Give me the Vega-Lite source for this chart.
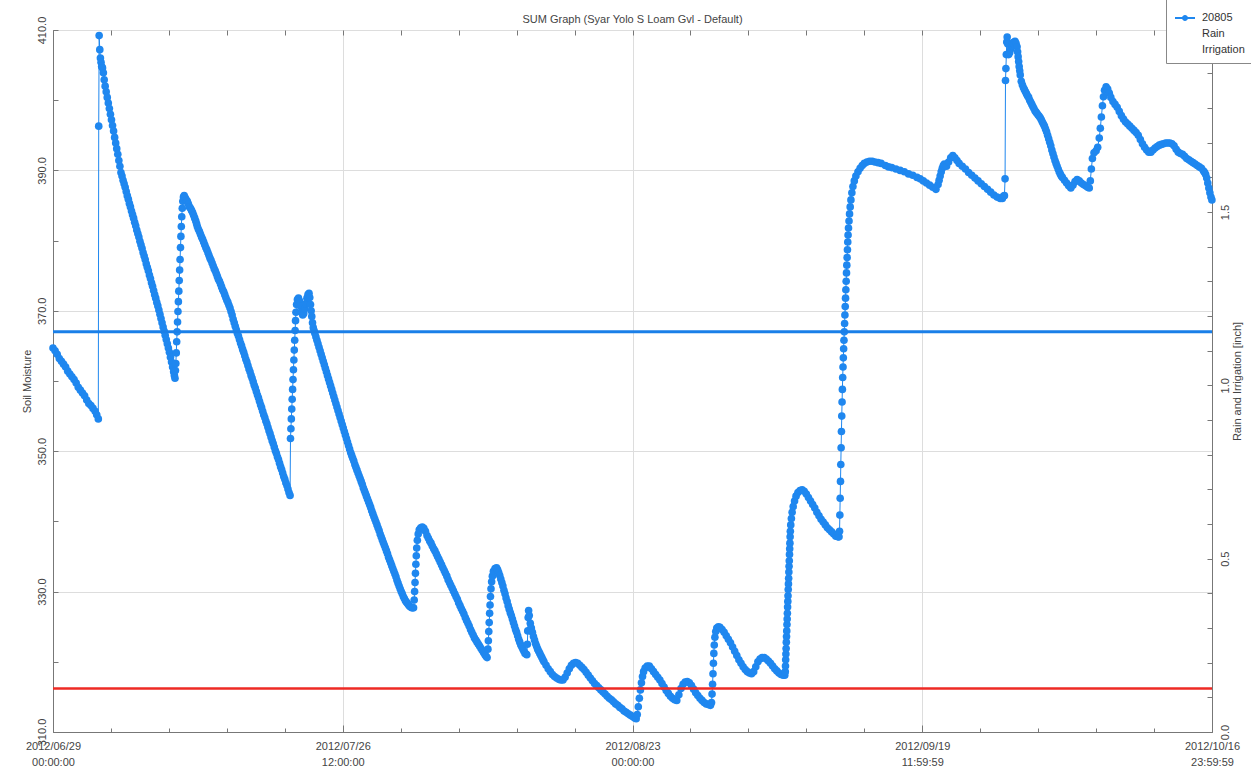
{
"$schema": "https://vega.github.io/schema/vega-lite/v6.json",
"width": 1159, "height": 702,
"autosize": {"type": "none"},
"padding": {"left": 53, "top": 30, "right": 39, "bottom": 40},
"background": "white",
"title": {"text": "SUM Graph (Syar Yolo S Loam Gvl - Default)", "fontSize": 11, "font": "Liberation Sans", "fontWeight": "normal", "color": "#444444", "offset": -26, "anchor": "middle"},
"config": {
  "view": {"stroke": "#777777", "strokeWidth": 1},
  "axis": {"domainColor": "#777777", "tickColor": "#777777", "labelFont": "Liberation Sans", "labelFontSize": 11, "labelColor": "#444444", "titleFont": "Liberation Sans", "titleFontSize": 11, "titleFontWeight": "normal", "titleColor": "#444444", "gridColor": "#dddddd", "gridWidth": 1}
},
"datasets": {"sm": [
{"d":0,"v":364.7},{"d":0.2,"v":364.3},{"d":0.4,"v":363.8},{"d":0.6,"v":363.2},{"d":0.8,"v":362.8},{"d":1,"v":362.4},{"d":1.2,"v":362},{"d":1.4,"v":361.4},{"d":1.6,"v":361},{"d":1.8,"v":360.6},{"d":2,"v":360.2},{"d":2.2,"v":359.7},{"d":2.4,"v":359.1},{"d":2.6,"v":358.7},{"d":2.8,"v":358.3},{"d":3,"v":357.9},{"d":3.2,"v":357.3},{"d":3.4,"v":356.8},{"d":3.6,"v":356.5},{"d":3.8,"v":356.1},{"d":4,"v":355.7},{"d":4.15,"v":355.2},{"d":4.3,"v":354.6},
{"d":4.34,"v":396.3},{"d":4.38,"v":409.2},{"d":4.44,"v":407.2},{"d":4.5,"v":406},{"d":4.56,"v":405.4},{"d":4.62,"v":404.8},{"d":4.7,"v":404.6},{"d":4.78,"v":403.9},{"d":4.86,"v":402.9},{"d":4.95,"v":402},
{"d":5.05,"v":401.2},{"d":5.15,"v":400.4},{"d":5.25,"v":399.6},{"d":5.35,"v":398.8},{"d":5.45,"v":398},{"d":5.55,"v":397.2},{"d":5.65,"v":396.4},{"d":5.75,"v":395.6},{"d":5.85,"v":394.7},{"d":5.95,"v":393.9},{"d":6.05,"v":393.1},{"d":6.15,"v":392.3},{"d":6.25,"v":391.4},{"d":6.35,"v":390.6},{"d":6.45,"v":389.7},{"d":6.55,"v":389.2},{"d":6.65,"v":388.6},{"d":6.75,"v":388.1},{"d":6.85,"v":387.6},{"d":6.95,"v":387},{"d":7.05,"v":386.4},{"d":7.15,"v":385.9},{"d":7.25,"v":385.3},{"d":7.35,"v":384.8},{"d":7.45,"v":384.2},{"d":7.55,"v":383.7},{"d":7.65,"v":383.2},{"d":7.75,"v":382.6},{"d":7.85,"v":382.1},{"d":7.95,"v":381.5},{"d":8.05,"v":381},{"d":8.15,"v":380.5},{"d":8.25,"v":379.9},{"d":8.35,"v":379.4},{"d":8.45,"v":378.9},{"d":8.55,"v":378.3},{"d":8.65,"v":377.8},{"d":8.75,"v":377.3},{"d":8.85,"v":376.7},{"d":8.95,"v":376.2},{"d":9.05,"v":375.7},{"d":9.15,"v":375.1},{"d":9.25,"v":374.6},{"d":9.35,"v":374},{"d":9.45,"v":373.5},{"d":9.55,"v":372.9},{"d":9.65,"v":372.3},{"d":9.75,"v":371.8},{"d":9.85,"v":371.2},{"d":9.95,"v":370.7},{"d":10.05,"v":370.1},{"d":10.15,"v":369.5},{"d":10.25,"v":368.9},{"d":10.35,"v":368.3},{"d":10.45,"v":367.7},{"d":10.55,"v":367.1},{"d":10.65,"v":366.5},{"d":10.75,"v":365.9},{"d":10.85,"v":365.3},{"d":10.95,"v":364.7},{"d":11.05,"v":364.1},{"d":11.15,"v":363.4},{"d":11.25,"v":362.7},{"d":11.35,"v":362},{"d":11.45,"v":361.3},{"d":11.52,"v":360.8},{"d":11.58,"v":360.4},
{"d":11.62,"v":361.5},{"d":11.66,"v":362.5},{"d":11.7,"v":364},{"d":11.74,"v":365.6},{"d":11.78,"v":367},{"d":11.82,"v":368.4},{"d":11.86,"v":369.9},{"d":11.9,"v":371.3},{"d":11.94,"v":372.8},{"d":11.98,"v":374.3},{"d":12.02,"v":375.8},{"d":12.06,"v":377.3},{"d":12.1,"v":379},{"d":12.14,"v":380.6},{"d":12.18,"v":382},{"d":12.22,"v":383.4},{"d":12.27,"v":384.6},{"d":12.32,"v":385.6},{"d":12.38,"v":386.2},{"d":12.45,"v":386.4},{"d":12.55,"v":386.1},{"d":12.65,"v":385.8},{"d":12.75,"v":385.6},{"d":12.85,"v":385.2},{"d":12.95,"v":384.8},{"d":13.05,"v":384.6},{"d":13.15,"v":384.3},{"d":13.25,"v":384},{"d":13.35,"v":383.6},{"d":13.45,"v":383.2},{"d":13.55,"v":382.8},{"d":13.63,"v":382.4},{"d":13.7,"v":382},
{"d":13.8,"v":381.6},{"d":13.9,"v":381.3},{"d":14,"v":380.9},{"d":14.1,"v":380.5},{"d":14.2,"v":380.2},{"d":14.3,"v":379.8},{"d":14.4,"v":379.4},{"d":14.5,"v":379},{"d":14.6,"v":378.7},{"d":14.7,"v":378.3},{"d":14.8,"v":377.9},{"d":14.9,"v":377.5},{"d":15,"v":377.2},{"d":15.1,"v":376.8},{"d":15.2,"v":376.4},{"d":15.3,"v":376},{"d":15.4,"v":375.7},{"d":15.5,"v":375.3},{"d":15.6,"v":374.9},{"d":15.7,"v":374.5},{"d":15.8,"v":374.2},{"d":15.9,"v":373.8},{"d":16,"v":373.4},{"d":16.1,"v":373},{"d":16.2,"v":372.7},{"d":16.3,"v":372.3},{"d":16.4,"v":371.9},{"d":16.5,"v":371.5},{"d":16.6,"v":371.2},{"d":16.7,"v":370.8},{"d":16.8,"v":370.4},{"d":16.9,"v":369.9},{"d":17,"v":369.4},{"d":17.1,"v":368.8},{"d":17.2,"v":368.3},{"d":17.3,"v":367.8},{"d":17.4,"v":367.3},{"d":17.5,"v":366.8},{"d":17.6,"v":366.4},{"d":17.7,"v":365.9},{"d":17.8,"v":365.4},{"d":17.9,"v":365},{"d":18,"v":364.5},{"d":18.1,"v":364.1},{"d":18.2,"v":363.6},{"d":18.3,"v":363.1},{"d":18.4,"v":362.7},{"d":18.5,"v":362.2},{"d":18.6,"v":361.7},{"d":18.7,"v":361.3},{"d":18.8,"v":360.8},{"d":18.9,"v":360.4},{"d":19,"v":359.9},{"d":19.1,"v":359.4},{"d":19.2,"v":359},{"d":19.3,"v":358.5},{"d":19.4,"v":358},{"d":19.5,"v":357.6},{"d":19.6,"v":357.1},{"d":19.7,"v":356.6},{"d":19.8,"v":356.2},{"d":19.9,"v":355.7},{"d":20,"v":355.2},{"d":20.1,"v":354.8},{"d":20.2,"v":354.3},{"d":20.3,"v":353.9},{"d":20.4,"v":353.4},{"d":20.5,"v":352.9},{"d":20.6,"v":352.5},{"d":20.7,"v":352},{"d":20.8,"v":351.5},{"d":20.9,"v":351.1},{"d":21,"v":350.6},{"d":21.1,"v":350.1},{"d":21.2,"v":349.7},{"d":21.3,"v":349.2},{"d":21.4,"v":348.8},{"d":21.5,"v":348.3},{"d":21.6,"v":347.8},{"d":21.7,"v":347.4},{"d":21.8,"v":346.9},{"d":21.9,"v":346.4},{"d":22,"v":346},{"d":22.1,"v":345.5},{"d":22.2,"v":345.1},{"d":22.3,"v":344.6},{"d":22.4,"v":344.1},{"d":22.5,"v":343.7},
{"d":22.54,"v":351.8},{"d":22.58,"v":353.2},{"d":22.62,"v":354.6},{"d":22.66,"v":356},{"d":22.7,"v":357.4},{"d":22.74,"v":358.8},{"d":22.78,"v":360.2},{"d":22.82,"v":361.6},{"d":22.86,"v":363},{"d":22.9,"v":364.4},{"d":22.94,"v":365.8},{"d":22.98,"v":367.2},{"d":23.02,"v":368.6},{"d":23.06,"v":369.8},{"d":23.12,"v":370.9},{"d":23.2,"v":371.6},{"d":23.3,"v":371.8},{"d":23.4,"v":371.4},{"d":23.5,"v":370.6},{"d":23.6,"v":369.8},{"d":23.7,"v":369.4},{"d":23.8,"v":369.6},{"d":23.9,"v":370.3},{"d":24,"v":371},{"d":24.1,"v":371.8},{"d":24.2,"v":372.3},{"d":24.3,"v":372.5},{"d":24.37,"v":371.9},{"d":24.44,"v":370.9},{"d":24.5,"v":370},{"d":24.56,"v":369.2},{"d":24.63,"v":368.3},{"d":24.7,"v":367.6},{"d":24.78,"v":367.2},{"d":24.85,"v":366.8},
{"d":24.95,"v":366.3},{"d":25.05,"v":365.8},{"d":25.15,"v":365.3},{"d":25.25,"v":364.8},{"d":25.35,"v":364.3},{"d":25.45,"v":363.8},{"d":25.55,"v":363.3},{"d":25.65,"v":362.8},{"d":25.75,"v":362.3},{"d":25.85,"v":361.8},{"d":25.95,"v":361.3},{"d":26.05,"v":360.8},{"d":26.15,"v":360.3},{"d":26.25,"v":359.8},{"d":26.35,"v":359.3},{"d":26.45,"v":358.8},{"d":26.55,"v":358.3},{"d":26.65,"v":357.8},{"d":26.75,"v":357.3},{"d":26.85,"v":356.8},{"d":26.95,"v":356.3},{"d":27.05,"v":355.8},{"d":27.15,"v":355.3},{"d":27.25,"v":354.8},{"d":27.35,"v":354.3},{"d":27.45,"v":353.8},{"d":27.55,"v":353.3},{"d":27.65,"v":352.8},{"d":27.75,"v":352.3},{"d":27.85,"v":351.8},{"d":27.95,"v":351.3},{"d":28.05,"v":350.8},{"d":28.15,"v":350.3},{"d":28.25,"v":349.8},{"d":28.35,"v":349.4},{"d":28.45,"v":349},{"d":28.55,"v":348.6},{"d":28.65,"v":348.1},{"d":28.75,"v":347.7},{"d":28.85,"v":347.3},{"d":28.95,"v":346.9},{"d":29.05,"v":346.5},{"d":29.15,"v":346.1},{"d":29.25,"v":345.7},{"d":29.35,"v":345.3},{"d":29.45,"v":344.8},{"d":29.55,"v":344.4},{"d":29.65,"v":344},{"d":29.75,"v":343.6},{"d":29.85,"v":343.2},{"d":29.95,"v":342.8},{"d":30.05,"v":342.4},{"d":30.15,"v":342},{"d":30.25,"v":341.5},{"d":30.35,"v":341.1},{"d":30.45,"v":340.7},{"d":30.55,"v":340.3},{"d":30.65,"v":339.9},{"d":30.75,"v":339.5},{"d":30.85,"v":339.1},{"d":30.95,"v":338.7},{"d":31.05,"v":338.2},{"d":31.15,"v":337.8},{"d":31.25,"v":337.4},{"d":31.35,"v":337},{"d":31.45,"v":336.6},{"d":31.55,"v":336.2},{"d":31.65,"v":335.8},{"d":31.75,"v":335.4},{"d":31.85,"v":334.9},{"d":31.95,"v":334.5},{"d":32.05,"v":334.1},{"d":32.15,"v":333.7},{"d":32.25,"v":333.3},{"d":32.35,"v":332.9},{"d":32.45,"v":332.5},{"d":32.55,"v":332.1},{"d":32.65,"v":331.6},{"d":32.75,"v":331.2},{"d":32.85,"v":330.8},{"d":32.95,"v":330.4},{"d":33.05,"v":330},{"d":33.15,"v":329.7},{"d":33.25,"v":329.3},{"d":33.35,"v":329},{"d":33.45,"v":328.7},{"d":33.55,"v":328.5},{"d":33.65,"v":328.3},{"d":33.75,"v":328.1},{"d":33.85,"v":327.9},{"d":33.95,"v":327.8},{"d":34.05,"v":327.7},{"d":34.15,"v":327.7},{"d":34.22,"v":327.7},
{"d":34.28,"v":328.8},{"d":34.32,"v":330},{"d":34.36,"v":331.3},{"d":34.4,"v":332.6},{"d":34.44,"v":333.9},{"d":34.48,"v":335.1},{"d":34.52,"v":336.2},{"d":34.58,"v":337.3},{"d":34.66,"v":338.2},{"d":34.76,"v":338.8},{"d":34.9,"v":339.1},{"d":35.05,"v":339.2},{"d":35.2,"v":339},{"d":35.35,"v":338.6},{"d":35.5,"v":338},
{"d":35.63,"v":337.6},{"d":35.75,"v":337.2},{"d":35.88,"v":336.9},{"d":36,"v":336.5},{"d":36.13,"v":336.1},{"d":36.25,"v":335.8},{"d":36.38,"v":335.4},{"d":36.5,"v":335},{"d":36.63,"v":334.6},{"d":36.75,"v":334.2},{"d":36.88,"v":333.8},{"d":37,"v":333.4},{"d":37.13,"v":333},{"d":37.25,"v":332.6},{"d":37.38,"v":332.2},{"d":37.5,"v":331.7},{"d":37.63,"v":331.3},{"d":37.75,"v":330.9},{"d":37.88,"v":330.5},{"d":38,"v":330.1},{"d":38.13,"v":329.7},{"d":38.25,"v":329.3},{"d":38.38,"v":328.9},{"d":38.5,"v":328.4},{"d":38.63,"v":328},{"d":38.75,"v":327.6},{"d":38.88,"v":327.2},{"d":39,"v":326.8},{"d":39.13,"v":326.3},{"d":39.25,"v":325.9},{"d":39.38,"v":325.5},{"d":39.5,"v":325.1},{"d":39.63,"v":324.6},{"d":39.75,"v":324.2},{"d":39.88,"v":323.8},{"d":40,"v":323.4},{"d":40.13,"v":323.1},{"d":40.25,"v":322.8},{"d":40.38,"v":322.5},{"d":40.5,"v":322.2},{"d":40.63,"v":321.9},{"d":40.75,"v":321.6},{"d":40.88,"v":321.3},{"d":41,"v":321},{"d":41.1,"v":320.8},{"d":41.2,"v":320.6},
{"d":41.28,"v":321.8},{"d":41.32,"v":323},{"d":41.36,"v":324.3},{"d":41.4,"v":325.6},{"d":41.44,"v":326.9},{"d":41.48,"v":328.1},{"d":41.52,"v":329.3},{"d":41.57,"v":330.4},{"d":41.63,"v":331.4},{"d":41.7,"v":332.2},{"d":41.8,"v":332.9},{"d":41.95,"v":333.3},{"d":42.1,"v":333.4},{"d":42.2,"v":333.1},{"d":42.3,"v":332.7},{"d":42.4,"v":332.3},
{"d":42.5,"v":331.8},{"d":42.6,"v":331.3},{"d":42.7,"v":330.8},{"d":42.8,"v":330.2},{"d":42.9,"v":329.7},{"d":43,"v":329.1},{"d":43.1,"v":328.6},{"d":43.2,"v":328},{"d":43.3,"v":327.5},{"d":43.4,"v":327},{"d":43.5,"v":326.6},{"d":43.6,"v":326.1},{"d":43.7,"v":325.6},{"d":43.8,"v":325.1},{"d":43.9,"v":324.6},{"d":44,"v":324.2},{"d":44.1,"v":323.7},{"d":44.2,"v":323.2},{"d":44.3,"v":322.8},{"d":44.4,"v":322.4},{"d":44.5,"v":322.1},{"d":44.6,"v":321.8},{"d":44.7,"v":321.5},{"d":44.8,"v":321.2},{"d":44.9,"v":321.1},{"d":44.97,"v":321},
{"d":45.02,"v":322.5},{"d":45.06,"v":324.4},{"d":45.1,"v":326.3},{"d":45.14,"v":327.3},{"d":45.2,"v":326.6},{"d":45.3,"v":325.5},{"d":45.4,"v":324.8},{"d":45.5,"v":324.2},{"d":45.6,"v":323.6},{"d":45.7,"v":323.1},{"d":45.8,"v":322.6},{"d":45.9,"v":322.2},{"d":46,"v":321.8},{"d":46.1,"v":321.5},{"d":46.2,"v":321.2},{"d":46.3,"v":320.9},{"d":46.4,"v":320.6},{"d":46.5,"v":320.3},{"d":46.6,"v":320},{"d":46.8,"v":319.5},{"d":47,"v":319},{"d":47.2,"v":318.6},{"d":47.4,"v":318.2},{"d":47.6,"v":317.9},{"d":47.8,"v":317.7},{"d":48,"v":317.5},{"d":48.2,"v":317.4},{"d":48.4,"v":317.4},{"d":48.6,"v":317.8},{"d":48.8,"v":318.4},{"d":49,"v":319},{"d":49.2,"v":319.5},{"d":49.4,"v":319.8},{"d":49.6,"v":319.9},{"d":49.8,"v":319.8},{"d":50,"v":319.5},{"d":50.2,"v":319.2},{"d":50.4,"v":318.9},{"d":50.6,"v":318.5},{"d":50.8,"v":318.1},{"d":51,"v":317.7},{"d":51.2,"v":317.3},{"d":51.4,"v":316.9},{"d":51.6,"v":316.6},{"d":51.8,"v":316.3},{"d":52,"v":316},{"d":52.2,"v":315.7},{"d":52.4,"v":315.4},{"d":52.6,"v":315.1},{"d":52.8,"v":314.8},{"d":53,"v":314.6},{"d":53.2,"v":314.3},{"d":53.4,"v":314},{"d":53.6,"v":313.8},{"d":53.8,"v":313.5},{"d":54,"v":313.3},{"d":54.2,"v":313},{"d":54.4,"v":312.8},{"d":54.6,"v":312.6},{"d":54.8,"v":312.4},{"d":55,"v":312.2},{"d":55.2,"v":312},{"d":55.35,"v":311.9},
{"d":55.45,"v":312.5},{"d":55.55,"v":313.6},{"d":55.65,"v":314.8},{"d":55.75,"v":316},{"d":55.85,"v":317},{"d":55.95,"v":317.9},{"d":56.05,"v":318.6},{"d":56.2,"v":319.1},{"d":56.4,"v":319.4},{"d":56.6,"v":319.4},{"d":56.8,"v":319},{"d":57,"v":318.6},{"d":57.2,"v":318.2},{"d":57.4,"v":317.8},{"d":57.6,"v":317.4},{"d":57.8,"v":316.9},{"d":58,"v":316.4},{"d":58.2,"v":315.9},{"d":58.4,"v":315.5},{"d":58.6,"v":315.1},{"d":58.8,"v":314.8},{"d":59,"v":314.6},{"d":59.2,"v":314.5},
{"d":59.4,"v":315.3},{"d":59.6,"v":316.2},{"d":59.8,"v":316.8},{"d":60,"v":317.1},{"d":60.2,"v":317.2},{"d":60.4,"v":317},{"d":60.6,"v":316.6},{"d":60.8,"v":316.1},{"d":61,"v":315.6},{"d":61.2,"v":315.2},{"d":61.4,"v":314.8},{"d":61.6,"v":314.5},{"d":61.8,"v":314.2},{"d":62,"v":314},{"d":62.2,"v":313.9},{"d":62.4,"v":313.8},
{"d":62.5,"v":314.2},{"d":62.55,"v":315.4},{"d":62.6,"v":316.8},{"d":62.64,"v":318.3},{"d":62.68,"v":319.8},{"d":62.72,"v":321.2},{"d":62.76,"v":322.4},{"d":62.82,"v":323.5},{"d":62.9,"v":324.3},{"d":63,"v":324.8},{"d":63.15,"v":325},{"d":63.3,"v":324.9},{"d":63.5,"v":324.6},{"d":63.7,"v":324.2},{"d":63.9,"v":323.7},{"d":64.1,"v":323.2},{"d":64.3,"v":322.7},{"d":64.5,"v":322.1},{"d":64.7,"v":321.5},{"d":64.9,"v":320.9},{"d":65.1,"v":320.3},{"d":65.3,"v":319.8},{"d":65.5,"v":319.3},{"d":65.7,"v":318.9},{"d":65.9,"v":318.6},{"d":66.1,"v":318.4},{"d":66.3,"v":318.3},
{"d":66.5,"v":318.6},{"d":66.7,"v":319.3},{"d":66.9,"v":320},{"d":67.1,"v":320.4},{"d":67.3,"v":320.6},{"d":67.5,"v":320.6},{"d":67.7,"v":320.4},{"d":67.9,"v":320.1},{"d":68.1,"v":319.8},{"d":68.3,"v":319.4},{"d":68.5,"v":319},{"d":68.7,"v":318.7},{"d":68.9,"v":318.4},{"d":69.1,"v":318.2},{"d":69.3,"v":318.1},{"d":69.45,"v":318.1},
{"d":69.5,"v":318.6},{"d":69.52,"v":319.4},{"d":69.54,"v":320.3},{"d":69.56,"v":321.1},{"d":69.58,"v":321.9},{"d":69.6,"v":322.8},{"d":69.62,"v":323.6},{"d":69.64,"v":324.4},{"d":69.66,"v":325.3},{"d":69.68,"v":326.1},{"d":69.7,"v":326.9},{"d":69.72,"v":327.8},{"d":69.74,"v":328.6},{"d":69.76,"v":329.4},{"d":69.78,"v":330.3},{"d":69.8,"v":331.1},{"d":69.82,"v":331.9},{"d":69.84,"v":332.8},{"d":69.86,"v":333.6},{"d":69.88,"v":334.4},{"d":69.9,"v":335.3},{"d":69.92,"v":336.1},{"d":69.94,"v":336.9},{"d":69.96,"v":337.8},{"d":69.98,"v":338.6},{"d":70.02,"v":339.5},{"d":70.08,"v":340.4},{"d":70.15,"v":341.3},{"d":70.25,"v":342.1},{"d":70.38,"v":342.9},{"d":70.52,"v":343.6},{"d":70.7,"v":344.1},{"d":70.9,"v":344.4},{"d":71.1,"v":344.5},{"d":71.3,"v":344.3},{"d":71.5,"v":343.9},
{"d":71.7,"v":343.4},{"d":71.9,"v":342.9},{"d":72.1,"v":342.4},{"d":72.3,"v":341.9},{"d":72.5,"v":341.3},{"d":72.7,"v":340.8},{"d":72.9,"v":340.3},{"d":73.1,"v":339.9},{"d":73.3,"v":339.5},{"d":73.5,"v":339.1},{"d":73.7,"v":338.8},{"d":73.9,"v":338.5},{"d":74.1,"v":338.2},{"d":74.3,"v":337.9},{"d":74.5,"v":337.8},{"d":74.6,"v":337.8},
{"d":74.65,"v":338.6},{"d":74.68,"v":340.9},{"d":74.71,"v":343.3},{"d":74.74,"v":345.7},{"d":74.77,"v":348.1},{"d":74.8,"v":350.5},{"d":74.83,"v":352.8},{"d":74.86,"v":355},{"d":74.89,"v":357},{"d":74.92,"v":358.8},{"d":74.95,"v":360.5},{"d":74.98,"v":362},{"d":75.01,"v":363.3},{"d":75.04,"v":364.6},{"d":75.07,"v":365.8},{"d":75.1,"v":367},{"d":75.13,"v":368.2},{"d":75.16,"v":369.4},{"d":75.19,"v":370.6},{"d":75.22,"v":371.8},{"d":75.25,"v":373},{"d":75.28,"v":374.2},{"d":75.31,"v":375.4},{"d":75.34,"v":376.5},{"d":75.37,"v":377.6},{"d":75.4,"v":378.7},{"d":75.43,"v":379.8},{"d":75.46,"v":380.8},{"d":75.5,"v":381.8},{"d":75.55,"v":382.8},{"d":75.6,"v":383.8},{"d":75.66,"v":384.8},{"d":75.73,"v":385.8},{"d":75.82,"v":386.8},{"d":75.92,"v":387.7},{"d":76.05,"v":388.5},{"d":76.2,"v":389.2},{"d":76.4,"v":389.8},{"d":76.6,"v":390.3},{"d":76.8,"v":390.7},{"d":77,"v":391},{"d":77.25,"v":391.2},{"d":77.5,"v":391.3},{"d":77.75,"v":391.3},
{"d":78,"v":391.2},{"d":78.3,"v":391.1},{"d":78.6,"v":391},{"d":79,"v":390.7},{"d":79.3,"v":390.5},{"d":79.6,"v":390.4},{"d":80,"v":390.2},{"d":80.4,"v":390},{"d":80.8,"v":389.8},{"d":81.2,"v":389.5},{"d":81.6,"v":389.3},{"d":82,"v":389},{"d":82.3,"v":388.8},{"d":82.6,"v":388.5},{"d":82.9,"v":388.2},{"d":83.2,"v":387.9},{"d":83.5,"v":387.6},{"d":83.8,"v":387.3},
{"d":84,"v":388},{"d":84.1,"v":388.6},{"d":84.2,"v":389.2},{"d":84.3,"v":389.8},{"d":84.4,"v":390.3},{"d":84.5,"v":390.7},{"d":84.6,"v":390.9},{"d":84.8,"v":390.6},{"d":85,"v":391.2},{"d":85.2,"v":391.8},{"d":85.4,"v":392.1},{"d":85.6,"v":391.8},{"d":85.8,"v":391.4},{"d":86,"v":391},{"d":86.3,"v":390.6},{"d":86.6,"v":390.2},{"d":86.9,"v":389.7},{"d":87.2,"v":389.3},{"d":87.5,"v":388.9},{"d":87.8,"v":388.5},{"d":88.1,"v":388.1},{"d":88.4,"v":387.7},{"d":88.7,"v":387.3},{"d":89,"v":386.9},{"d":89.3,"v":386.5},{"d":89.6,"v":386.2},{"d":89.9,"v":386},{"d":90.1,"v":386},{"d":90.2,"v":386.3},
{"d":90.3,"v":386.4},{"d":90.36,"v":388.8},{"d":90.4,"v":402.8},{"d":90.44,"v":404.5},{"d":90.48,"v":406.5},{"d":90.52,"v":408.3},{"d":90.56,"v":409},{"d":90.62,"v":408},{"d":90.7,"v":406.5},{"d":90.8,"v":406.8},{"d":90.9,"v":407.3},{"d":91,"v":407.8},{"d":91.1,"v":408.2},{"d":91.2,"v":408},{"d":91.3,"v":408.4},{"d":91.4,"v":408.1},{"d":91.5,"v":407.6},{"d":91.55,"v":406.9},{"d":91.6,"v":406.2},{"d":91.65,"v":405.5},{"d":91.7,"v":404.8},{"d":91.75,"v":404.2},{"d":91.8,"v":403.6},{"d":91.9,"v":402.7},{"d":92,"v":402.2},{"d":92.1,"v":401.8},{"d":92.2,"v":401.5},{"d":92.3,"v":401.2},{"d":92.4,"v":400.9},{"d":92.5,"v":400.6},{"d":92.6,"v":400.4},{"d":92.7,"v":400},{"d":92.8,"v":399.7},{"d":92.9,"v":399.4},{"d":93,"v":399.1},{"d":93.1,"v":398.8},{"d":93.2,"v":398.5},{"d":93.3,"v":398.3},{"d":93.4,"v":398.1},{"d":93.5,"v":397.9},{"d":93.6,"v":397.7},{"d":93.7,"v":397.5},{"d":93.8,"v":397.2},{"d":93.9,"v":396.9},{"d":94,"v":396.6},{"d":94.1,"v":396.3},{"d":94.2,"v":395.9},{"d":94.3,"v":395.5},{"d":94.4,"v":395},{"d":94.5,"v":394.5},{"d":94.6,"v":394},{"d":94.7,"v":393.5},{"d":94.8,"v":392.9},{"d":94.9,"v":392.4},{"d":95,"v":391.9},{"d":95.1,"v":391.4},{"d":95.2,"v":391},{"d":95.3,"v":390.6},{"d":95.4,"v":390.2},{"d":95.5,"v":389.8},{"d":95.6,"v":389.5},{"d":95.7,"v":389.2},{"d":95.8,"v":389},{"d":96,"v":388.6},{"d":96.2,"v":388.2},{"d":96.4,"v":387.8},{"d":96.6,"v":387.5},{"d":96.8,"v":387.9},{"d":97,"v":388.4},{"d":97.2,"v":388.7},{"d":97.4,"v":388.5},{"d":97.6,"v":388.2},{"d":97.8,"v":388},{"d":98,"v":387.8},{"d":98.2,"v":387.6},{"d":98.35,"v":387.5},
{"d":98.45,"v":388.5},{"d":98.55,"v":390.2},{"d":98.65,"v":391.7},{"d":98.8,"v":392.5},{"d":99,"v":392.8},{"d":99.15,"v":393.3},{"d":99.3,"v":394.6},{"d":99.4,"v":396},{"d":99.5,"v":397.6},{"d":99.6,"v":399.2},{"d":99.7,"v":400.5},{"d":99.8,"v":401.4},{"d":99.95,"v":401.9},{"d":100.1,"v":401.6},{"d":100.25,"v":401},{"d":100.4,"v":400.4},
{"d":100.6,"v":399.8},{"d":100.8,"v":399.4},{"d":101,"v":399},{"d":101.2,"v":398.4},{"d":101.4,"v":397.8},{"d":101.6,"v":397.3},{"d":101.8,"v":396.9},{"d":102,"v":396.6},{"d":102.2,"v":396.3},{"d":102.4,"v":396},{"d":102.6,"v":395.7},{"d":102.8,"v":395.4},{"d":103,"v":395},{"d":103.2,"v":394.4},{"d":103.4,"v":393.8},{"d":103.6,"v":393.3},{"d":103.8,"v":392.9},{"d":104,"v":392.6},{"d":104.2,"v":392.6},{"d":104.4,"v":392.9},{"d":104.6,"v":393.2},{"d":104.8,"v":393.4},{"d":105,"v":393.6},{"d":105.2,"v":393.7},{"d":105.4,"v":393.8},{"d":105.6,"v":393.9},{"d":105.8,"v":393.9},{"d":106,"v":393.9},{"d":106.2,"v":393.8},{"d":106.4,"v":393.5},{"d":106.6,"v":393},{"d":106.8,"v":392.6},{"d":107,"v":392.4},{"d":107.2,"v":392.3},{"d":107.4,"v":392},{"d":107.6,"v":391.7},{"d":107.8,"v":391.5},{"d":108,"v":391.3},{"d":108.2,"v":391.1},{"d":108.4,"v":390.9},{"d":108.6,"v":390.7},{"d":108.8,"v":390.5},{"d":109,"v":390.3},{"d":109.2,"v":389.9},{"d":109.3,"v":389.7},{"d":109.4,"v":389.4},{"d":109.5,"v":388.9},{"d":109.6,"v":388.2},{"d":109.7,"v":387.5},{"d":109.8,"v":386.8},{"d":109.9,"v":386.2},{"d":109.99,"v":385.8}
]},
"layer": [
  {
    "layer": [
      {"data": {"name": "sm"}, "mark": {"type": "line", "strokeWidth": 1, "color": "#1f87ef"},
       "encoding": {
         "x": {"field": "d", "type": "quantitative", "scale": {"domain": [0, 110], "nice": false, "zero": false},
               "axis": {"orient": "top", "values": [0,5.5,11,16.5,22,27.5,33,38.5,44,49.5,55,60.5,66,71.5,77,82.5,88,93.5,99,104.5,110], "labels": false, "grid": false, "domain": false, "title": null, "tickSize": -5}},
         "y": {"field": "v", "type": "quantitative", "scale": {"domain": [310, 410], "nice": false, "zero": false},
               "axis": {"orient": "left", "values": [310,320,330,340,350,360,370,380,390,400,410], "labelExpr": "datum.value % 20 == 10 ? format(datum.value, '.1f') : ''", "labelAngle": 270, "labelOverlap": false, "labelFlush": false, "tickSize": -5, "labelPadding": 11, "grid": true, "gridOpacity": {"condition": {"test": "datum.value % 20 == 10", "value": 1}, "value": 0}, "title": "Soil Moisture", "titlePadding": 4}}
       }},
      {"data": {"name": "sm"}, "mark": {"type": "point", "filled": true, "size": 58, "opacity": 1},
       "encoding": {
         "x": {"field": "d", "type": "quantitative",
               "axis": {"orient": "bottom", "values": [0,5.5,11,16.5,22,27.5,33,38.5,44,49.5,55,60.5,66,71.5,77,82.5,88,93.5,99,104.5,110], "labelExpr": "datum.value % 27.5 == 0 ? [['2012/06/29','00:00:00'],['2012/07/26','12:00:00'],['2012/08/23','00:00:00'],['2012/09/19','11:59:59'],['2012/10/16','23:59:59']][round(datum.value / 27.5)] : ''", "labelAngle": 0, "labelAlign": "center", "labelBaseline": "top", "labelOverlap": false, "labelFlush": false, "labelLineHeight": 16, "tickSize": {"condition": {"test": "datum.value % 27.5 == 0", "value": -7}, "value": -4}, "labelPadding": 15, "grid": true, "gridOpacity": {"condition": {"test": "datum.value % 27.5 == 0", "value": 1}, "value": 0}, "title": null}},
         "y": {"field": "v", "type": "quantitative"},
         "color": {"datum": "20805", "type": "nominal",
                   "scale": {"domain": ["20805", "Rain", "Irrigation"], "range": ["#1f87ef", "transparent", "transparent"]},
                   "legend": {"orient": "none", "legendX": 1113, "legendY": -31, "title": null, "symbolType": "M-1,-0.1L1,-0.1L1,0.1L-1,0.1Z M0.3,0A0.3,0.3 0 1,1 -0.3,0A0.3,0.3 0 1,1 0.3,0Z", "symbolSize": 400, "symbolOpacity": 1, "labelFont": "Liberation Sans", "labelFontSize": 11, "labelColor": "#333333", "strokeColor": "#888888", "fillColor": "white", "padding": 8, "rowPadding": -2, "labelOffset": 6}}
       }},
      {"data": {"values": [{"v": 367.0}]}, "mark": {"type": "rule", "color": "#1a7fe8", "strokeWidth": 3}, "encoding": {"y": {"field": "v", "type": "quantitative"}}},
      {"data": {"values": [{"v": 316.2}]}, "mark": {"type": "rule", "color": "#ee2a24", "strokeWidth": 2.5}, "encoding": {"y": {"field": "v", "type": "quantitative"}}}
    ],
    "resolve": {"axis": {"x": "independent"}}
  },
  {"data": {"values": []}, "mark": {"type": "point", "opacity": 0},
   "encoding": {"y": {"field": "inch", "type": "quantitative", "scale": {"domain": [0, 2.025], "nice": false, "zero": false},
     "axis": {"orient": "right", "values": [0,0.1,0.2,0.3,0.4,0.5,0.6,0.7,0.8,0.9,1,1.1,1.2,1.3,1.4,1.5,1.6,1.7,1.8,1.9,2], "labelExpr": "round(datum.value * 10) % 5 == 0 && datum.value < 1.9 ? format(datum.value, '.1f') : ''", "labelAngle": 270, "labelOverlap": false, "labelFlush": false, "tickSize": -5, "labelPadding": 12, "grid": false, "title": "Rain and Irrigation [inch]", "titleAngle": 270, "titlePadding": 12}}}}
],
"resolve": {"scale": {"y": "independent"}}
}
